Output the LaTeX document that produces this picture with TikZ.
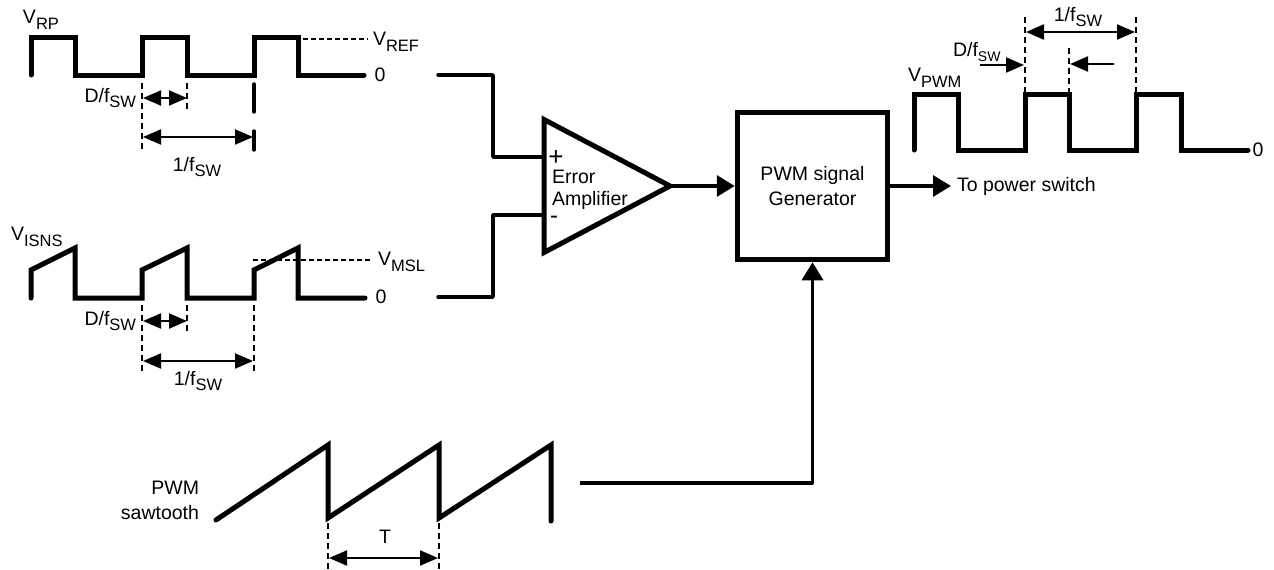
\documentclass[tikz,border=0pt]{standalone}
\usepackage{fontspec}
\setmainfont{Liberation Sans}
\usetikzlibrary{arrows.meta,shapes.geometric}
\newcommand{\subtxt}[1]{\raisebox{-0.3em}{\fontsize{16.5}{18}\selectfont #1}}
\tikzset{
  x=1pt,y=-1pt,
  wave/.style={line width=5pt,line join=miter,line cap=round,black},
  wire/.style={line width=3.4pt,line join=round,line cap=round,black},
  flow/.style={line width=3.4pt,line join=round,-{Triangle[length=18pt,width=21pt]},black},
  dim/.style={line width=2pt,{Triangle[length=18pt,width=15pt]}-{Triangle[length=18pt,width=15pt]},black},
  dimone/.style={line width=2pt,-{Triangle[length=18pt,width=15pt]},black},
  guide/.style={line width=1.5pt,dash pattern=on 6pt off 4pt,black},
  refline/.style={line width=1.5pt,dash pattern=on 5pt off 3pt,black},
  solidmark/.style={line width=3.4pt,line cap=round,black},
  lbl/.style={inner sep=0pt,outer sep=0pt,font=\fontsize{19.5}{25}\selectfont,black},
  blockbox/.style={draw=black,line width=5.5pt,minimum width=150pt,minimum height=147pt,inner sep=0pt,align=center,font=\fontsize{19.5}{25}\selectfont},
  amp/.style={draw=black,line width=5pt,isosceles triangle,isosceles triangle stretches,minimum width=133pt,minimum height=126pt,inner sep=0pt,outer sep=0pt},
}
\begin{document}
\begin{tikzpicture}
\useasboundingbox (0,0) rectangle (1274,570);

% V_RP waveform
\draw[wave] (31,75)--(31,37)--(75,37)--(75,75)--(142,75)--(142,37)--(187,37)--(187,75)--(254,75)--(254,37)--(298,37)--(298,75)--(364,75);
\coordinate (rp1) at (303,39); \coordinate (rp2) at (368,39);
\draw[refline] (rp1)--(rp2);
\node[lbl,anchor=west] (vrp) at (23,20) {V\subtxt{RP}};
\node[lbl,anchor=west] (vref) at (373,42) {V\subtxt{REF}};
\node[lbl,anchor=center] (z1) at (380,75) {0};
\coordinate (a1) at (142,83); \coordinate (a2) at (142,150);
\coordinate (b1) at (187,83); \coordinate (b2) at (187,110);
\coordinate (c1) at (254,84); \coordinate (c2) at (254,112);
\coordinate (c3) at (254,131); \coordinate (c4) at (254,150);
\draw[guide] (a1)--(a2); \draw[guide] (b1)--(b2);
\draw[solidmark] (c1)--(c2); \draw[solidmark] (c3)--(c4);
\coordinate (d1) at (143,98); \coordinate (d2) at (187,98);
\draw[dim] (d1)--(d2);
\coordinate (e1) at (143,137); \coordinate (e2) at (253,137);
\draw[dim] (e1)--(e2);
\node[lbl,anchor=east] (dfa) at (136,98) {D/f\subtxt{SW}};
\node[lbl] (ofa) at (197,167) {1/f\subtxt{SW}};

% V_ISNS waveform
\draw[wave] (31,298)--(31,270)--(75,248)--(75,298)--(142,298)--(142,270)--(187,248)--(187,298)--(254,298)--(254,270)--(298,248)--(298,298)--(365,298);
\coordinate (ms1) at (253,260); \coordinate (ms2) at (372,260);
\draw[refline] (ms1)--(ms2);
\node[lbl,anchor=west] (visns) at (11,237) {V\subtxt{ISNS}};
\node[lbl,anchor=west] (vmsl) at (378,262) {V\subtxt{MSL}};
\node[lbl,anchor=center] (z2) at (381,297) {0};
\coordinate (f1) at (142,305); \coordinate (f2) at (142,372);
\coordinate (g1) at (187,305); \coordinate (g2) at (187,332);
\coordinate (h1) at (254,305); \coordinate (h2) at (254,372);
\draw[guide] (f1)--(f2); \draw[guide] (g1)--(g2); \draw[guide] (h1)--(h2);
\coordinate (i1) at (143,321); \coordinate (i2) at (187,321);
\draw[dim] (i1)--(i2);
\coordinate (j1) at (143,361); \coordinate (j2) at (253,361);
\draw[dim] (j1)--(j2);
\node[lbl,anchor=east] (dfb) at (136,321) {D/f\subtxt{SW}};
\node[lbl] (ofb) at (198,381) {1/f\subtxt{SW}};

% Error amplifier
\node[amp,anchor=lower side] (ea) at (544,186) {};
\node[lbl] (plus) at (556,158) {\fontsize{26}{26}\selectfont +};
\node[lbl] (minus) at (554,220) {\fontsize{24}{24}\selectfont -};
\node[lbl,anchor=west] (err) at (552,177) {Error};
\node[lbl,anchor=west] (ampl) at (552,200) {Amplifier};
\coordinate (in1) at (438,75); \coordinate (in2) at (438,297);
\coordinate (ip) at (544,157); \coordinate (im) at (544,215);
\draw[wire] (in1)-|(493,157)--(ip);
\draw[wire] (in2)-|(493,215)--(im);

% PWM block
\node[blockbox] (pwm) at (812.5,186) {PWM signal\\Generator};
\draw[flow] (ea.apex)--(pwm.west);
\coordinate (out) at (951,186);
\draw[flow] (pwm.east)--(out);
\node[lbl,anchor=west] (pwr) at (957,186) {To power switch};

% Sawtooth
\draw[wave] (216,520)--(328,445)--(328,518)--(439,445)--(439,518)--(551,445)--(551,521);
\node[lbl,align=right,anchor=east] (saw) at (199,500) {PWM\\sawtooth};
\coordinate (sw) at (580,483);
\draw[flow] (sw)-|(pwm.south);
\coordinate (t1) at (328,523); \coordinate (t2) at (328,570);
\coordinate (u1) at (439,523); \coordinate (u2) at (439,570);
\draw[guide] (t1)--(t2); \draw[guide] (u1)--(u2);
\coordinate (v1) at (329,558); \coordinate (v2) at (438,558);
\draw[dim] (v1)--(v2);
\node[lbl] (tl) at (385,537) {T};

% V_PWM waveform
\draw[wave] (914,150)--(914,94)--(958,94)--(958,150)--(1025,150)--(1025,94)--(1069,94)--(1069,150)--(1136,150)--(1136,94)--(1181,94)--(1181,150)--(1248,150);
\node[lbl,anchor=west] (vpwm) at (908,78) {V\subtxt{PWM}};
\node[lbl] (z3) at (1258,150) {0};
\coordinate (k1) at (1025,17); \coordinate (k2) at (1025,92);
\coordinate (l1) at (1136,17); \coordinate (l2) at (1136,92);
\coordinate (m1) at (1069,48); \coordinate (m2) at (1069,92);
\draw[guide] (k1)--(k2); \draw[guide] (l1)--(l2); \draw[guide] (m1)--(m2);
\coordinate (n1) at (1026,32); \coordinate (n2) at (1135,32);
\draw[dim] (n1)--(n2);
\coordinate (o1) at (980,65); \coordinate (o2) at (1024,65);
\draw[dimone] (o1)--(o2);
\coordinate (p1) at (1114,64); \coordinate (p2) at (1070,64);
\draw[dimone] (p1)--(p2);
\node[lbl] (ofc) at (1078,17) {1/f\subtxt{SW}};
\node[lbl,anchor=west] (dfc) at (953,52) {D/f{\fontsize{14}{16}\selectfont\raisebox{-0.3em}{SW}}};
\end{tikzpicture}
\end{document}
